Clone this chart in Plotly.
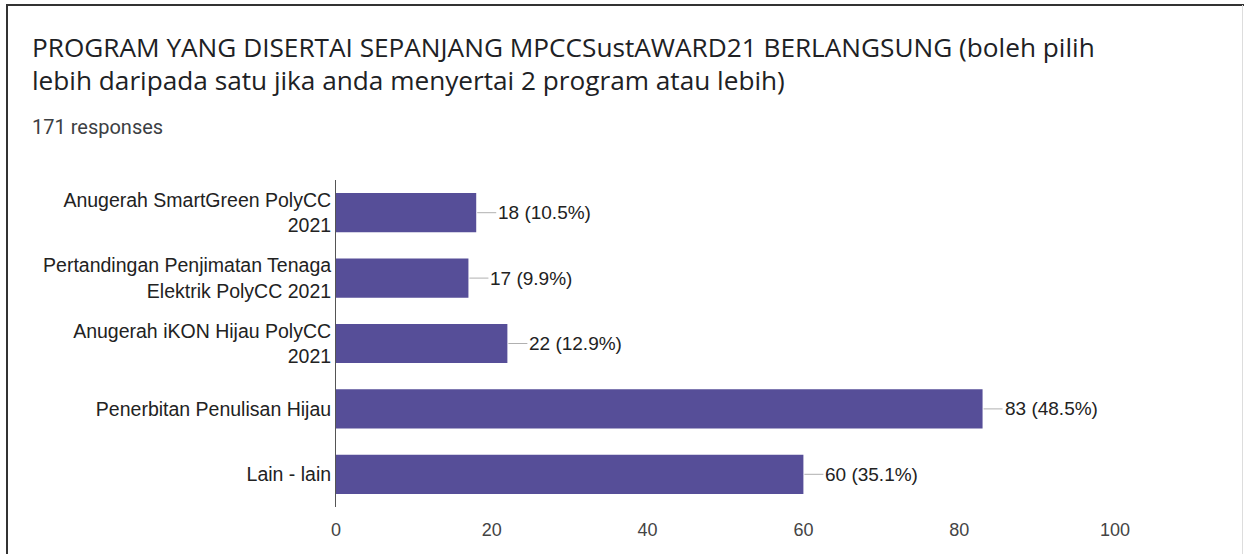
import plotly.graph_objects as go

categories = [
    "Anugerah SmartGreen PolyCC<br>2021",
    "Pertandingan Penjimatan Tenaga<br>Elektrik PolyCC 2021",
    "Anugerah iKON Hijau PolyCC<br>2021",
    "Penerbitan Penulisan Hijau",
    "Lain - lain",
]
counts = [18, 17, 22, 83, 60]
percents = ["10.5%", "9.9%", "12.9%", "48.5%", "35.1%"]
x_ticks = [0, 20, 40, 60, 80, 100]

title_line1 = "PROGRAM YANG DISERTAI SEPANJANG MPCCSustAWARD21 BERLANGSUNG (boleh pilih"
title_line2 = "lebih daripada satu jika anda menyertai 2 program atau lebih)"
subtitle = "171 responses"

BAR = "#564e98"
W, H = 1244, 554
L, R, T, B = 336, 129, 180, 47
PW, PH = W - L - R, H - T - B


def px(xp):
    return (xp - L) / PW


def py(yp):
    return 1 - (yp - T) / PH


fig = go.Figure()
fig.add_trace(go.Bar(
    x=counts, y=categories, orientation="h",
    marker=dict(color=BAR, line=dict(width=0)),
    width=0.6, hoverinfo="skip",
))

for c, v, p in zip(categories, counts, percents):
    fig.add_shape(type="line", xref="x", yref="y", xsizemode="pixel", xanchor=v,
                  x0=1, x1=20, y0=c, y1=c, line=dict(color="#b0b0b0", width=1))
    fig.add_annotation(x=v, y=c, xref="x", yref="y", text=f"{v} ({p})", showarrow=False,
                       xanchor="left", xshift=20,
                       font=dict(family="Liberation Sans, Arial", size=19, color="#222222"))

fig.update_layout(
    width=W, height=H,
    margin=dict(l=L, r=R, t=T, b=B),
    paper_bgcolor="white", plot_bgcolor="white",
    showlegend=False,
    font=dict(family="Liberation Sans, Arial", size=19, color="#222222"),
    xaxis=dict(range=[0, 100], tickvals=x_ticks, showgrid=False, zeroline=False,
               showline=False, ticks="", ticklabelstandoff=10,
               tickfont=dict(size=18, color="#444444")),
    yaxis=dict(autorange=False, range=[4.5, -0.5], showgrid=False, zeroline=False,
               showline=True, linecolor="#555555", linewidth=1, ticks="",
               ticklabelstandoff=0, tickfont=dict(size=19.5, color="#222222")),
)

fig.add_annotation(xref="paper", yref="paper", x=px(30), y=py(47),
                   xanchor="left", yanchor="middle", showarrow=False, text=title_line1,
                   font=dict(family="Open Sans", size=26.2, color="#202124"))
fig.add_annotation(xref="paper", yref="paper", x=px(30), y=py(80),
                   xanchor="left", yanchor="middle", showarrow=False, text=title_line2,
                   font=dict(family="Open Sans", size=26.2, color="#202124"))
fig.add_annotation(xref="paper", yref="paper", x=px(30), y=py(127),
                   xanchor="left", yanchor="middle", showarrow=False, text=subtitle,
                   font=dict(family="Roboto", size=20, color="#3c4043"))

# outer frame (top and left dark, right light)
fig.add_shape(type="line", xref="paper", yref="paper", x0=px(6), x1=px(1244),
              y0=py(5), y1=py(5), line=dict(color="#333333", width=2))
fig.add_shape(type="line", xref="paper", yref="paper", x0=px(7), x1=px(7),
              y0=py(5), y1=py(554), line=dict(color="#333333", width=2))
fig.add_shape(type="line", xref="paper", yref="paper", x0=px(1242.5), x1=px(1242.5),
              y0=py(5), y1=py(554), line=dict(color="#dddddd", width=1))

fig.write_html("out.html", config={"displayModeBar": False},
               post_script="document.body.style.margin='0';")
